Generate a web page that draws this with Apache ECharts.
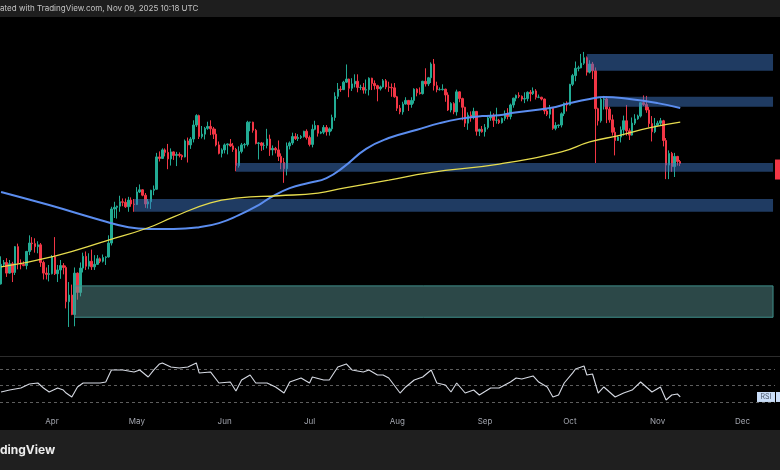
<!DOCTYPE html>
<html><head><meta charset="utf-8">
<script src="https://cdn.jsdelivr.net/npm/echarts@6/dist/echarts.min.js"></script>
<style>html,body{margin:0;padding:0;background:#000;}#c{width:780px;height:470px;}</style>
</head><body><div id="c"></div>
<script>
// BTC/USD daily candles (price in thousand USD), one per day from startDate
const startDate = '2025-03-14';
const opens = [
 80.9,84.0,84.3,82.6,84.1,82.7,86.9,84.2,84.0,83.8,86.1,87.5,87.4,86.9,87.2,84.3,82.6,82.4,
 82.5,85.2,82.5,83.1,83.8,83.5,78.2,79.2,76.3,82.6,79.6,83.4,85.3,83.7,84.5,83.6,84.0,84.9,84.5,85.1,85.2,87.5,93.4,93.7,93.9,94.7,94.6,93.8,95.0,94.3,
 94.2,96.5,96.9,95.9,94.3,94.7,96.8,97.0,103.2,102.9,104.6,104.1,102.8,104.2,103.5,103.7,103.5,103.2,106.4,105.6,106.8,109.7,111.7,107.3,107.8,109.0,109.4,108.9,107.8,105.6,103.9,
 104.6,105.6,105.8,105.4,104.7,101.5,104.3,105.6,105.7,110.3,110.3,108.6,105.9,106.0,105.5,105.5,106.8,104.6,104.9,104.6,103.3,102.1,100.9,105.4,106.0,107.3,106.9,107.1,107.3,108.4,
 107.1,105.7,108.8,109.6,108.0,108.2,109.2,108.3,108.9,111.3,115.9,117.5,117.4,119.1,119.8,117.7,118.7,119.3,117.9,117.9,117.3,117.4,120.0,118.8,118.3,117.6,118.0,119.4,118.0,117.9,117.8,
 115.8,113.3,112.5,114.2,115.0,114.1,115.0,117.5,116.7,116.5,119.3,118.7,120.1,123.3,118.3,117.4,117.4,117.5,116.2,112.9,114.3,112.5,116.9,115.4,113.5,110.1,111.8,111.3,112.6,108.4,108.8,
 108.3,109.2,111.2,111.7,110.7,110.7,110.2,111.1,112.1,111.5,114.0,115.5,116.1,115.9,115.3,115.4,116.8,116.5,117.1,115.7,115.7,115.3,112.7,112.0,113.3,109.0,109.6,109.7,112.1,114.4,
 114.0,118.6,120.6,122.3,122.4,123.5,124.8,121.4,123.3,121.7,113.2,110.6,115.2,115.3,113.1,110.8,108.2,106.5,107.2,108.7,110.6,108.5,107.6,110.1,111.0,111.6,114.5,114.1,112.9,110.0,108.3,
 109.6,110.1,110.6,106.5,101.6,103.9,101.3,103.3,102.3
];
const highs = [
 85.3,84.7,85.0,84.7,84.4,87.0,87.4,84.8,84.5,86.2,88.8,88.5,88.3,87.8,87.5,84.6,83.5,83.9,
 85.5,88.5,83.9,84.7,84.2,83.8,81.2,80.8,83.5,82.7,84.3,85.9,86.1,85.8,86.4,85.5,85.5,85.1,85.6,85.3,88.8,93.8,94.7,94.0,95.8,95.3,95.3,95.6,95.5,95.2,
 97.4,97.9,97.0,96.3,95.2,96.9,97.7,104.0,104.3,104.9,104.9,105.8,104.9,104.3,104.2,104.1,103.7,106.7,107.1,107.2,110.7,112.0,111.9,109.5,109.3,110.4,110.7,109.3,108.9,106.3,104.9,
 105.9,105.9,106.8,106.0,105.0,105.3,106.0,106.0,110.6,110.4,110.4,108.9,106.2,106.2,106.1,108.9,107.7,105.5,105.2,106.5,103.9,103.0,106.1,106.3,108.1,108.0,107.8,107.6,108.5,108.8,
 107.5,109.8,110.6,109.7,108.4,109.7,109.7,109.2,111.9,116.8,118.9,118.2,119.4,123.2,119.9,120.0,120.9,120.9,118.5,118.9,119.7,120.2,120.1,119.5,118.5,118.3,119.8,119.8,119.2,118.8,118.9,
 116.0,114.0,114.7,115.7,115.1,115.7,117.7,117.7,117.9,119.4,122.3,120.3,123.7,124.5,119.2,117.9,118.6,117.6,116.8,114.6,114.6,117.4,117.0,115.6,113.6,112.4,112.6,113.4,112.7,108.9,109.5,
 109.9,111.7,112.6,112.2,113.4,111.0,111.3,112.8,113.3,114.3,115.6,116.3,116.8,116.1,116.8,117.0,117.3,117.9,117.5,116.3,115.8,115.4,113.2,114.0,113.5,110.3,109.8,112.4,114.5,114.8,
 118.7,121.0,123.9,122.9,125.7,126.2,125.1,124.2,123.8,122.5,113.4,115.8,116.0,115.9,113.6,111.9,109.2,107.5,109.4,111.7,114.0,109.0,111.3,112.0,111.9,114.6,116.1,116.0,113.6,111.6,111.2,
 110.6,111.2,110.8,107.0,104.5,104.2,104.0,103.4,102.6
];
const lows = [
 80.8,83.6,82.0,82.5,81.2,82.3,83.2,83.2,83.7,83.2,85.5,86.3,85.9,85.8,83.6,81.6,81.6,81.3,
 82.4,82.3,81.2,81.7,82.4,77.2,74.5,76.2,74.6,78.5,79.0,82.7,83.1,83.2,83.1,83.1,83.9,84.2,84.3,83.9,85.1,87.1,91.8,91.7,92.9,93.9,93.6,92.9,93.8,92.9,
 94.1,96.3,95.7,93.6,93.5,93.4,95.9,96.9,102.3,102.8,103.3,100.8,101.5,102.6,101.4,103.1,102.6,103.1,102.1,104.8,106.1,109.3,106.8,106.9,106.7,108.7,107.6,106.8,105.3,103.7,103.1,
 103.9,103.7,105.2,104.2,100.4,101.1,103.9,104.9,105.3,108.4,108.1,105.7,102.7,104.4,104.6,104.9,103.4,103.5,103.9,102.4,100.8,98.2,99.6,104.7,105.6,106.6,106.4,106.8,107.1,106.7,
 105.3,105.1,108.6,107.3,107.8,107.8,107.5,107.5,108.4,110.6,115.3,116.9,117.3,118.9,115.7,117.1,117.9,116.8,117.3,116.5,116.5,116.1,117.3,117.4,114.8,117.2,117.9,117.5,116.9,115.8,115.6,
 112.7,112.0,111.9,114.1,112.7,113.4,114.3,115.9,116.3,116.3,118.1,118.2,118.9,117.2,116.8,117.2,117.2,114.7,112.7,112.4,112.0,111.7,114.6,110.7,109.3,108.7,110.4,110.9,107.5,107.4,108.1,
 107.3,108.8,110.6,109.3,110.0,109.9,110.0,110.6,110.9,110.9,113.4,114.8,115.5,114.8,114.4,114.8,114.8,116.2,115.2,115.5,115.0,112.0,111.6,111.1,108.7,108.6,109.1,109.2,111.6,112.6,
 113.9,118.2,119.3,121.6,122.3,123.1,120.6,121.1,119.8,102.0,109.6,110.2,113.0,110.1,110.2,107.5,103.5,106.4,106.1,107.5,107.5,106.6,107.5,109.7,110.8,111.3,113.8,112.3,109.2,106.3,108.0,
 109.4,109.5,105.3,98.9,98.9,100.3,99.3,101.5,101.4
];
const closes = [
 84.0,84.3,82.6,84.1,82.7,86.9,84.2,84.0,83.8,86.1,87.5,87.4,86.9,87.2,84.3,82.6,82.4,82.5,
 85.2,82.5,83.1,83.8,83.5,78.2,79.2,76.3,82.6,79.6,83.4,85.3,83.7,84.5,83.6,84.0,84.9,84.5,85.1,85.2,87.5,93.4,93.7,93.9,94.7,94.6,93.8,95.0,94.3,94.2,
 96.5,96.9,95.9,94.3,94.7,96.8,97.0,103.2,102.9,104.6,104.1,102.8,104.2,103.5,103.7,103.5,103.2,106.4,105.6,106.8,109.7,111.7,107.3,107.8,109.0,109.4,108.9,107.8,105.6,103.9,104.6,
 105.6,105.8,105.4,104.7,101.5,104.3,105.6,105.7,110.3,110.3,108.6,105.9,106.0,105.5,105.5,106.8,104.6,104.9,104.6,103.3,102.1,100.9,105.4,106.0,107.3,106.9,107.1,107.3,108.4,107.1,
 105.7,108.8,109.6,108.0,108.2,109.2,108.3,108.9,111.3,115.9,117.5,117.4,119.1,119.8,117.7,118.7,119.3,117.9,117.9,117.3,117.4,120.0,118.8,118.3,117.6,118.0,119.4,118.0,117.9,117.8,115.8,
 113.3,112.5,114.2,115.0,114.1,115.0,117.5,116.7,116.5,119.3,118.7,120.1,123.3,118.3,117.4,117.4,117.5,116.2,112.9,114.3,112.5,116.9,115.4,113.5,110.1,111.8,111.3,112.6,108.4,108.8,108.3,
 109.2,111.2,111.7,110.7,110.7,110.2,111.1,112.1,111.5,114.0,115.5,116.1,115.9,115.3,115.4,116.8,116.5,117.1,115.7,115.7,115.3,112.7,112.0,113.3,109.0,109.6,109.7,112.1,114.4,114.0,
 118.6,120.6,122.3,122.4,123.5,124.8,121.4,123.3,121.7,113.2,110.6,115.2,115.3,113.1,110.8,108.2,106.5,107.2,108.7,110.6,108.5,107.6,110.1,111.0,111.6,114.5,114.1,112.9,110.0,108.3,109.6,
 110.1,110.6,106.5,101.6,103.9,101.3,103.3,102.3,101.9
];

// moving averages
const maBlueDates = ['2025-03-14','2025-03-31','2025-04-18','2025-04-28','2025-05-05','2025-05-14','2025-05-23','2025-05-30','2025-06-06','2025-06-13','2025-06-17','2025-06-24','2025-07-01','2025-07-07','2025-07-13','2025-07-21','2025-07-29','2025-08-08','2025-08-16','2025-08-23','2025-08-31','2025-09-06','2025-09-11','2025-09-24','2025-10-01','2025-10-08','2025-10-13','2025-10-22','2025-11-01','2025-11-09'];
const maBlueValues = [96.5,94.1,91.45,90.2,89.9,89.9,90.2,90.9,92.3,94.1,95.4,97.2,98.2,99.1,101.2,104.8,107.0,108.7,110.1,111.0,111.6,111.8,112.3,113.35,114.4,115.3,115.75,115.3,114.4,113.35];
const maYellowDates = ['2025-03-14','2025-04-02','2025-04-21','2025-05-05','2025-05-14','2025-05-27','2025-06-06','2025-06-20','2025-07-04','2025-07-13','2025-07-29','2025-08-12','2025-09-06','2025-09-28','2025-10-08','2025-10-19','2025-10-29','2025-11-09'];
const maYellowValues = [83.6,85.35,88.0,90.1,92.0,94.5,95.4,95.8,96.3,97.2,98.7,100.1,101.8,104.2,106.2,107.6,109.1,110.3];

// RSI (day offset from startDate, value)
const rsiDays = [0,3,7,10,13,15,17,20,22,23,25,27,29,31,35,37,39,43,47,49,52,54,56,57,60,63,66,69,70,74,77,81,83,85,88,90,94,97,100,102,106,109,110,114,116,119,122,124,128,130,133,135,137,141,143,146,149,152,154,157,159,161,164,167,169,173,176,180,182,184,188,190,193,195,197,199,202,203,206,207,209,211,213,215,217,220,223,226,228,230,233,235,237,239,240];
const rsiValues = [42.1,44.5,47.0,51.8,53.0,47.0,42.1,47.0,44.5,40.9,36.1,48.2,53.0,53.0,53.0,54.2,68.8,68.8,66.4,68.8,60.3,68.8,76.1,77.3,72.4,71.2,72.4,77.3,65.2,66.4,53.0,54.2,43.3,56.7,62.7,53.0,53.0,48.2,40.9,54.2,59.1,53.0,60.3,56.7,56.7,72.4,76.1,68.8,66.4,68.8,62.7,62.7,59.1,40.9,48.2,56.7,60.3,68.8,53.0,50.6,42.1,53.0,40.9,44.5,38.5,47.0,47.0,54.2,59.1,57.9,61.5,54.2,48.2,36.1,38.5,53.0,65.2,70.0,73.6,62.7,63.9,40.9,48.2,42.1,36.1,40.9,44.5,54.2,48.2,42.1,48.2,32.4,38.5,39.7,36.1];
const rsiLevels = [70, 50, 30];

const monthTicks = ['2025-04-01','2025-05-01','2025-06-01','2025-07-01','2025-08-01','2025-09-01','2025-10-01','2025-11-01','2025-12-01'];
const monthLabels = ['Apr','May','Jun','Jul','Aug','Sep','Oct','Nov','Dec'];

// drawn zones: start date, end date, upper and lower price
const zoneStarts = ['2025-10-07','2025-10-13','2025-06-05','2025-04-30','2025-04-09'];
const zoneEnds   = ['2025-12-11T19:00:00Z','2025-12-11T19:00:00Z','2025-12-11T19:00:00Z','2025-12-11T19:00:00Z','2025-12-11T19:00:00Z'];
const zoneTops   = [125.7, 115.8, 102.0, 95.2, 80.6];
const zoneBottoms= [121.7, 113.6, 100.3, 92.9, 75.9];
const zoneKinds  = ['blue','blue','blue','blue','teal'];

const DAY = 86400000;
const t0 = Date.parse(startDate);
const xMin = t0 - 0.375 * DAY;
const xMax = xMin + 273.86 * DAY;

const candleData = closes.map((c, i) => [t0 + i * DAY, opens[i], c, lows[i], highs[i]]);
const blueData = maBlueDates.map((d, i) => [Date.parse(d), maBlueValues[i]]);
const yellowData = maYellowDates.map((d, i) => [Date.parse(d), maYellowValues[i]]);
const rsiData = rsiDays.map((d, i) => [t0 + d * DAY, rsiValues[i]]);
const tickMs = monthTicks.map(d => Date.parse(d));

const zoneStyle = {
  blue: { color: 'rgba(62,118,196,0.5)', borderWidth: 0 },
  teal: { color: 'rgba(92,150,150,0.48)', borderColor: '#3f8f8a', borderWidth: 1 }
};
const zoneData = zoneStarts.map((s, i) => [
  { xAxis: Date.parse(s), yAxis: zoneTops[i], itemStyle: zoneStyle[zoneKinds[i]] },
  { xAxis: Date.parse(zoneEnds[i]), yAxis: zoneBottoms[i] }
]);

const FONT = '"Inter", "Noto Sans", "DejaVu Sans", sans-serif';
const UP = '#22ab94', DOWN = '#f23645';

const chart = echarts.init(document.getElementById('c'), null, { renderer: 'canvas' });
chart.setOption({
  backgroundColor: '#000000',
  animation: false,
  grid: [
    { left: 0, right: 5, top: 17, height: 339 },
    { left: 0, right: 5, top: 357, height: 55 }
  ],
  xAxis: [
    { type: 'value', gridIndex: 0, min: xMin, max: xMax, show: false },
    { type: 'value', gridIndex: 1, min: xMin, max: xMax,
      axisLine: { show: false }, axisTick: { show: false }, splitLine: { show: false },
      axisLabel: {
        customValues: tickMs,
        formatter: v => { const k = tickMs.indexOf(v); return k >= 0 ? monthLabels[k] : ''; },
        color: '#a3a6af', fontSize: 8, fontFamily: FONT, margin: 6
      } }
  ],
  yAxis: [
    { type: 'log', gridIndex: 0, min: 70.47, max: 134.93, show: false },
    { type: 'value', gridIndex: 1, min: 17.9, max: 84.5, show: false }
  ],
  series: [
    {
      name: 'BTCUSD', type: 'candlestick', xAxisIndex: 0, yAxisIndex: 0, z: 2,
      data: candleData, barWidth: 2,
      itemStyle: { color: UP, color0: DOWN, borderColor: UP, borderColor0: DOWN, borderWidth: 1 },
      markArea: { silent: true, z: 3, data: zoneData }
    },
    {
      name: 'MA blue', type: 'line', xAxisIndex: 0, yAxisIndex: 0, z: 5,
      data: blueData, smooth: 0.5, showSymbol: false,
      lineStyle: { color: '#5b8def', width: 2 }
    },
    {
      name: 'MA yellow', type: 'line', xAxisIndex: 0, yAxisIndex: 0, z: 5,
      data: yellowData, smooth: 0.5, showSymbol: false,
      lineStyle: { color: '#e6dc4e', width: 1.3 }
    },
    {
      name: 'RSI', type: 'line', xAxisIndex: 1, yAxisIndex: 1, z: 5,
      data: rsiData, showSymbol: false,
      lineStyle: { color: '#d6dae3', width: 1.1 },
      markLine: {
        silent: true, symbol: 'none', label: { show: false },
        lineStyle: { color: '#5e5e5e', type: [3, 3], width: 1 },
        data: rsiLevels.map(v => ({ yAxis: v }))
      }
    }
  ]
});

function textW(s, font) {
  const ctx = document.createElement('canvas').getContext('2d');
  ctx.font = font; return ctx.measureText(s).width;
}
const headFont = '8px ' + FONT;
const logoFont = 'bold 12px ' + FONT;
const lastT = candleData[candleData.length - 1][0];
const lastPx = chart.convertToPixel({ gridIndex: 0 }, [lastT, closes[closes.length - 1]]);
const rsiPx = chart.convertToPixel({ gridIndex: 1 }, [rsiData[rsiData.length - 1][0], rsiValues[rsiValues.length - 1]]);

chart.setOption({
  graphic: [
    { type: 'rect', shape: { x: 0, y: 0, width: 780, height: 17 }, style: { fill: '#1e1e1e' }, z: 10 },
    { type: 'text', x: -textW('Cre', headFont), y: 9, z: 11,
      style: { text: 'Created with TradingView.com, Nov 09, 2025 10:18 UTC', font: headFont, fill: '#c4c4c4', verticalAlign: 'middle', textVerticalAlign: 'middle' } },
    { type: 'rect', shape: { x: 0, y: 430, width: 780, height: 40 }, style: { fill: '#1f1f1f' }, z: 10 },
    { type: 'text', x: -textW('Tra', logoFont), y: 450, z: 11,
      style: { text: 'TradingView', font: logoFont, fill: '#ececec', verticalAlign: 'middle', textVerticalAlign: 'middle' } },
    { type: 'line', shape: { x1: 0, y1: 356.5, x2: 780, y2: 356.5 }, style: { stroke: '#2c2c2c', lineWidth: 1 }, z: 10 },
    { type: 'rect', shape: { x: 775, y: lastPx[1] - 4, width: 10, height: 20 }, style: { fill: '#f23645' }, z: 10 },
    { type: 'rect', shape: { x: 757, y: rsiPx[1] - 5, width: 18, height: 10 }, style: { fill: '#c9ddf7' }, z: 10 },
    { type: 'text', x: 766, y: rsiPx[1], z: 11,
      style: { text: 'RSI', font: '7px ' + FONT, fill: '#4a5568', align: 'center', textAlign: 'center', verticalAlign: 'middle', textVerticalAlign: 'middle' } },
    { type: 'rect', shape: { x: 776, y: rsiPx[1] - 5, width: 10, height: 10 }, style: { fill: '#c9ddf7' }, z: 10 }
  ]
});
</script>
</body></html>
